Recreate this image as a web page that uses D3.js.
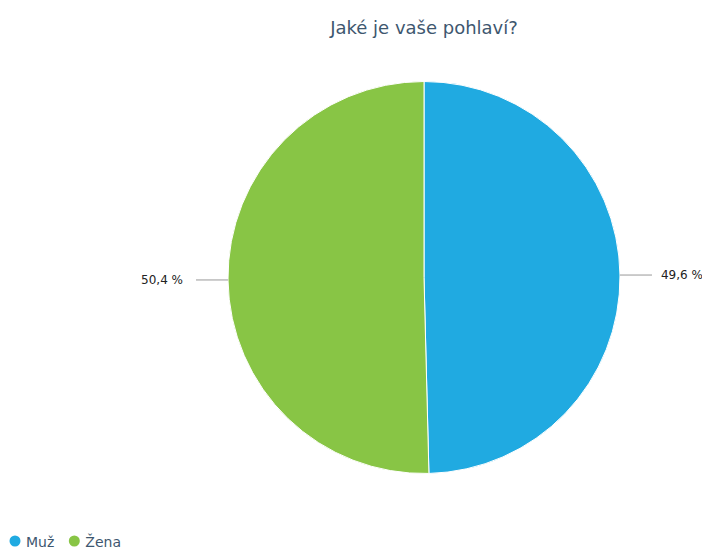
<!DOCTYPE html>
<html><head><meta charset="utf-8">
<script src="https://cdn.jsdelivr.net/npm/d3@7"></script>
<style>body{margin:0;background:#fff}svg{display:block}</style>
</head><body>
<script>
const categories = ["Muž", "Žena"];
const values = [49.6, 50.4];
const labels = ["49,6 %", "50,4 %"];
const colors = ["#20aae1", "#88c545"];
const title = "Jaké je vaše pohlaví?";

const W = 702, H = 550, cx = 424, cy = 277.5, R = 196;
const svg = d3.select("body").append("svg").attr("width", W).attr("height", H);
const font = "'DejaVu Sans', Verdana, sans-serif";

svg.append("text").attr("x", 424).attr("y", 34).attr("text-anchor", "middle")
  .attr("font-family", font).attr("font-size", 18).attr("fill", "#3e576f").text(title);

const data = categories.map((c, i) => ({c, v: values[i], l: labels[i], col: colors[i]}));
const pie = d3.pie().sort(null).value(d => d.v);
const arcs = pie(data);
const arc = d3.arc().innerRadius(0).outerRadius(R);
const g = svg.append("g").attr("transform", `translate(${cx},${cy})`);
g.selectAll("path").data(arcs).join("path").attr("d", arc)
  .attr("fill", d => d.data.col).attr("stroke", "#fff").attr("stroke-width", 1);

arcs.forEach(a => {
  const mid = (a.startAngle + a.endAngle) / 2;
  const s = Math.sin(mid), c = -Math.cos(mid);
  const x0 = R * s, y0 = R * c;
  const right = s > 0;
  const x1 = x0 + (right ? 32 : -32);
  g.append("line").attr("x1", x0).attr("y1", y0).attr("x2", x1).attr("y2", y0)
    .attr("stroke", "#999").attr("stroke-width", 1);
  g.append("text").attr("x", x1 + (right ? 9 : -13)).attr("y", y0 + 4)
    .attr("text-anchor", right ? "start" : "end")
    .attr("font-family", font).attr("font-size", 12).attr("fill", "#222").text(a.data.l);
});

const leg = svg.append("g").attr("transform", "translate(0,541)");
let lx = 15;
data.forEach(d => {
  leg.append("circle").attr("cx", lx).attr("cy", 0).attr("r", 5.5).attr("fill", d.col);
  const t = leg.append("text").attr("x", lx + 11).attr("y", 6).attr("font-family", font)
    .attr("font-size", 14).attr("fill", "#3e576f").text(d.c);
  lx += 11 + t.node().getComputedTextLength() + 20;
});
</script>
</body></html>
